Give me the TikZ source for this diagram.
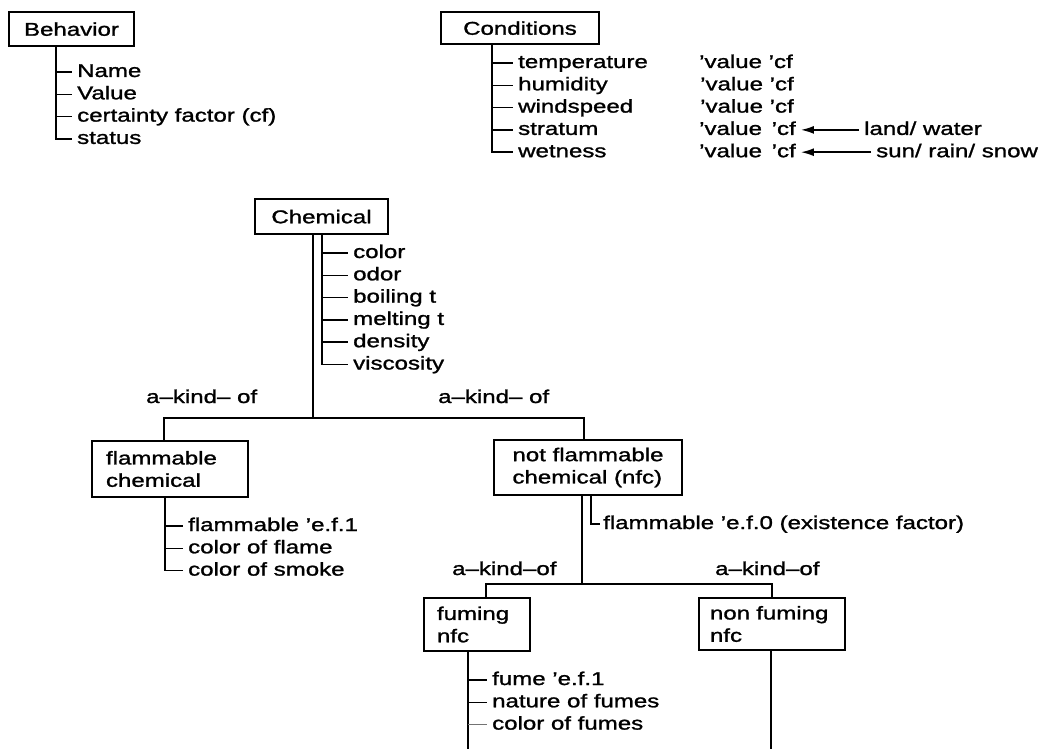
\documentclass[tikz,border=0pt]{standalone}
\usepackage{fontspec}
\setmainfont{Liberation Sans}[FakeStretch=1.3, FakeBold=1.3]
\usetikzlibrary{arrows.meta}
\begin{document}
\begin{tikzpicture}[x=1pt,y=-1pt,
  font=\fontsize{18.5}{22.3}\selectfont,
  ln/.style={line width=1.5pt},
  trunk/.style={line width=2.2pt},
  thicktrunk/.style={line width=2.8pt},
  faint/.style={line width=0.9pt, draw=black!55},
  box/.style={draw, line width=1.5pt, inner sep=0pt},
  sbox/.style={box, text height=13.5pt, text depth=0pt},
  item/.style={anchor=west, inner xsep=5pt, inner ysep=0pt, text height=10pt, text depth=0pt},
  lbl/.style={item, inner xsep=0pt},
  arr/.style={ln, -{Latex[length=13pt,width=8pt]}}]
\useasboundingbox (0,0) rectangle (1044,749);

% ---------------- Behavior
\node[sbox, minimum width=125pt, minimum height=34pt] (beh) at (71.5,29) {Behavior};
\coordinate (bx) at (56,0);
\node[item] (b1) at (72,72) {Name};
\node[item] (b2) at (72,94.3) {Value};
\node[item] (b3) at (72,116.6) {certainty factor (cf)};
\node[item] (b4) at (72,138.9) {status};
\draw[ln] (beh.south -| bx) |- (b4.west);
\foreach \n in {b1,b2,b3} \draw[ln] (\n.west -| bx) -- (\n.west);

% ---------------- Conditions
\node[sbox, minimum width=158pt, minimum height=32pt] (cond) at (520,28) {Conditions};
\coordinate (cx) at (492,0);
\node[item] (c1) at (513,63) {temperature};
\node[item] (c2) at (513,85.3) {humidity};
\node[item] (c3) at (513,107.6) {windspeed};
\node[item] (c4) at (513,129.9) {stratum};
\node[item] (c5) at (513,152.2) {wetness};
\draw[ln] (cond.south -| cx) |- (c5.west);
\foreach \n in {c1,c2,c3,c4} \draw[ln] (\n.west -| cx) -- (\n.west);

\node[item] (v1) at (694,63) {’value ’cf};
\node[item] (v2) at (695,85.3) {’value ’cf};
\node[item] (v3) at (695,107.6) {’value ’cf};
\node[item] (v4) at (694,129.9) {’value\kern3pt{} ’cf};
\node[item] (v5) at (694,152.2) {’value\kern3pt{} ’cf};
\node[item] (lw) at (859,129.9) {land/ water};
\node[item] (srs) at (871,152.2) {sun/ rain/ snow};
\draw[arr] (lw.west) -- (v4.east);
\draw[arr] (srs.west) -- (v5.east);

% ---------------- Chemical
\node[sbox, minimum width=133pt, minimum height=35pt] (chem) at (321.5,216.5) {Chemical};
\coordinate (ct) at (313,418);
\coordinate (ca) at (322,0);
\node[item] (h1) at (348,253) {color};
\node[item] (h2) at (348,275.3) {odor};
\node[item] (h3) at (348,297.6) {boiling t};
\node[item] (h4) at (348,319.9) {melting t};
\node[item] (h5) at (348,342.2) {density};
\node[item] (h6) at (348,364.5) {viscosity};
\draw[trunk] (chem.south -| ct) -- (ct);
\draw[ln] (chem.south -| ca) |- (h6.west);
\foreach \n in {h1,h2,h3,h4,h5} \draw[ln] (\n.west -| ca) -- (\n.west);

\node[lbl] (ak1) at (146,398) {a–kind– of};
\node[lbl] (ak2) at (438,398) {a–kind– of};

% ---------------- flammable / not flammable
\node[box, align=left, text width=128pt, inner xsep=14pt, minimum height=56pt] (fc) at (170,469) {flammable\\chemical};
\node[box, align=left, minimum width=188pt, minimum height=55pt] (nfc) at (588,467.5) {not flammable\\chemical (nfc)};
\coordinate (k1) at (164,0);
\coordinate (k2) at (584,0);
\draw[ln] (fc.north -| k1) |- (ct) -| (nfc.north -| k2);

\coordinate (fx) at (165,0);
\node[item] (f1) at (183,526) {flammable ’e.f.1};
\node[item] (f2) at (183,548.3) {color of flame};
\node[item] (f3) at (183,570.6) {color of smoke};
\draw[ln] (fc.south -| fx) |- (f3.west);
\foreach \n in {f1,f2} \draw[ln] (\n.west -| fx) -- (\n.west);

\coordinate (nt) at (582,584);
\coordinate (nx) at (591,0);
\node[item, inner xsep=3pt] (ef0) at (600,524) {flammable ’e.f.0 (existence factor)};
\draw[ln] (nfc.south -| nt) -- (nt);
\draw[ln] (nfc.south -| nx) |- (ef0.west);

% ---------------- fuming / non fuming
\node[lbl] (ak3) at (452,570) {a–kind–of};
\node[lbl] (ak4) at (715,570) {a–kind–of};
\node[box, align=left, text width=80pt, inner xsep=13pt, minimum height=53pt] (fum) at (477,624.5) {fuming\\nfc};
\node[box, align=left, text width=124pt, inner xsep=11pt, minimum height=52pt] (nfum) at (772,624) {non fuming\\nfc};
\coordinate (m1) at (486,0);
\coordinate (m2) at (772,0);
\draw[ln] (fum.north -| m1) |- (nt) -| (nfum.north -| m2);

\coordinate (fx2) at (468,749);
\node[item] (u1) at (487,680) {fume ’e.f.1};
\node[item] (u2) at (487,702.3) {nature of fumes};
\node[item] (u3) at (487,724.6) {color of fumes};
\draw[thicktrunk] (fum.south -| fx2) -- (fx2);
\draw[ln] (u1.west -| fx2) -- (u1.west);
\draw[ln] (u2.west -| fx2) -- (u2.west);
\draw[faint] (u3.west -| fx2) -- (u3.west);

\coordinate (nfx) at (771,749);
\draw[ln] (nfum.south -| nfx) -- (nfx);
\end{tikzpicture}
\end{document}
